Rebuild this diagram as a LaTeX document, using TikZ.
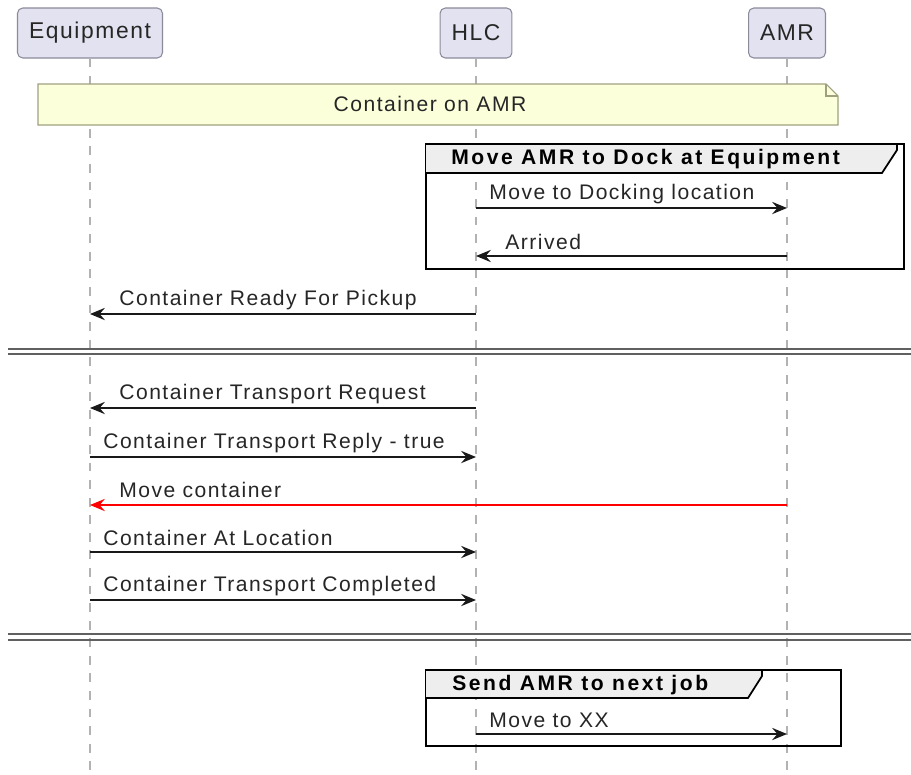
\documentclass[tikz,border=0pt]{standalone}
\usepackage{fontspec}
\setmainfont{Liberation Sans}[LetterSpace=7]
\newfontfamily\tabfont{Liberation Sans}[LetterSpace=12]
\usetikzlibrary{arrows.meta,positioning}
\definecolor{partfill}{HTML}{E2E2F0}
\definecolor{partdraw}{HTML}{8A8A9A}
\definecolor{notefill}{HTML}{FBFFDA}
\definecolor{notedraw}{HTML}{A0A080}
\definecolor{tabfill}{HTML}{EEEEEE}
\tikzset{
  part/.style={draw=partdraw, fill=partfill, rounded corners=3pt, line width=0.6pt,
    minimum height=1cm, inner xsep=0.23cm, font=\fontsize{13}{15}\selectfont, text=black!85},
  life/.style={gray!60, line width=0.7pt, dash pattern=on 5pt off 5pt},
  msg/.style={black!90, line width=0.8pt, -{Stealth[length=8.5pt, width=7pt, inset=3pt]}},
  msglabel/.style={anchor=west, inner sep=0pt, font=\fontsize{12}{14}\selectfont, text=black!85},
  grp/.style={black, line width=1.3pt},
  tab/.style={draw=black, fill=tabfill, line width=1pt},
  tablabel/.style={anchor=west, inner sep=0pt, font=\fontsize{12}{14}\selectfont\tabfont\bfseries},
  divider/.style={gray!75!black, line width=1pt}
}
\begin{document}
\begin{tikzpicture}[x=0.02cm, y=-0.02cm]
\useasboundingbox (0,0) rectangle (911,774);
% participants and lifelines
\node[part] (eq) at (90,33) {Equipment};
\node[part] (hlc) at (476,33) {HLC};
\node[part] (amr) at (787,33) {AMR};
\coordinate (eq-end) at (eq |- 0,774);
\coordinate (hlc-end) at (hlc |- 0,774);
\coordinate (amr-end) at (amr |- 0,774);
\draw[life] (eq.south) -- (eq-end);
\draw[life] (hlc.south) -- (hlc-end);
\draw[life] (amr.south) -- (amr-end);
% note across all participants
\draw[draw=notedraw, fill=notefill, line width=0.6pt]
  (38,84) -- (826,84) -- (838,96) -- (838,125) -- (38,125) -- cycle;
\draw[notedraw, line width=0.6pt] (826,84) -- (826,96) -- (838,96);
\node[font=\fontsize{12}{14}\selectfont, text=black!85] (note) at (430,104) {Container on AMR};
% group: move AMR to dock
\draw[grp] (426,144) rectangle (904,269);
\draw[tab] (426,144) -- (897,144) -- (897,150) -- (882,173) -- (426,173);
\node[tablabel] (grp1) at (451,159) {Move AMR to Dock at Equipment};
\draw[msg] (hlc |- 0,208) -- (amr |- 0,208);
\node[msglabel] (m1) at (489,194) {Move to Docking location};
\draw[msg] (amr |- 0,256) -- (hlc |- 0,256);
\node[msglabel] (m2) at (505,242) {Arrived};
\draw[msg] (hlc |- 0,314) -- (eq |- 0,314);
\node[msglabel] (m3) at (119,300) {Container Ready For Pickup};
% divider
\draw[divider] (8,349) -- (911,349);
\draw[divider] (8,354) -- (911,354);
% transport handshake
\draw[msg] (hlc |- 0,408) -- (eq |- 0,408);
\node[msglabel] (m4) at (119,394) {Container Transport Request};
\draw[msg] (eq |- 0,457) -- (hlc |- 0,457);
\node[msglabel] (m5) at (103,443) {Container Transport Reply - true};
\draw[msg, red] (amr |- 0,505) -- (eq |- 0,505);
\node[msglabel] (m6) at (119,490) {Move container};
\draw[msg] (eq |- 0,552) -- (hlc |- 0,552);
\node[msglabel] (m7) at (103,538) {Container At Location};
\draw[msg] (eq |- 0,600) -- (hlc |- 0,600);
\node[msglabel] (m8) at (103,586) {Container Transport Completed};
% divider
\draw[divider] (8,634) -- (911,634);
\draw[divider] (8,640) -- (911,640);
% group: send AMR to next job
\draw[grp] (426,670) rectangle (841,746);
\draw[tab] (426,670) -- (762,670) -- (762,676) -- (748,698) -- (426,698);
\node[tablabel] (grp2) at (452,685) {Send AMR to next job};
\draw[msg] (hlc |- 0,734) -- (amr |- 0,734);
\node[msglabel] (m9) at (489,720) {Move to XX};
\end{tikzpicture}
\end{document}
